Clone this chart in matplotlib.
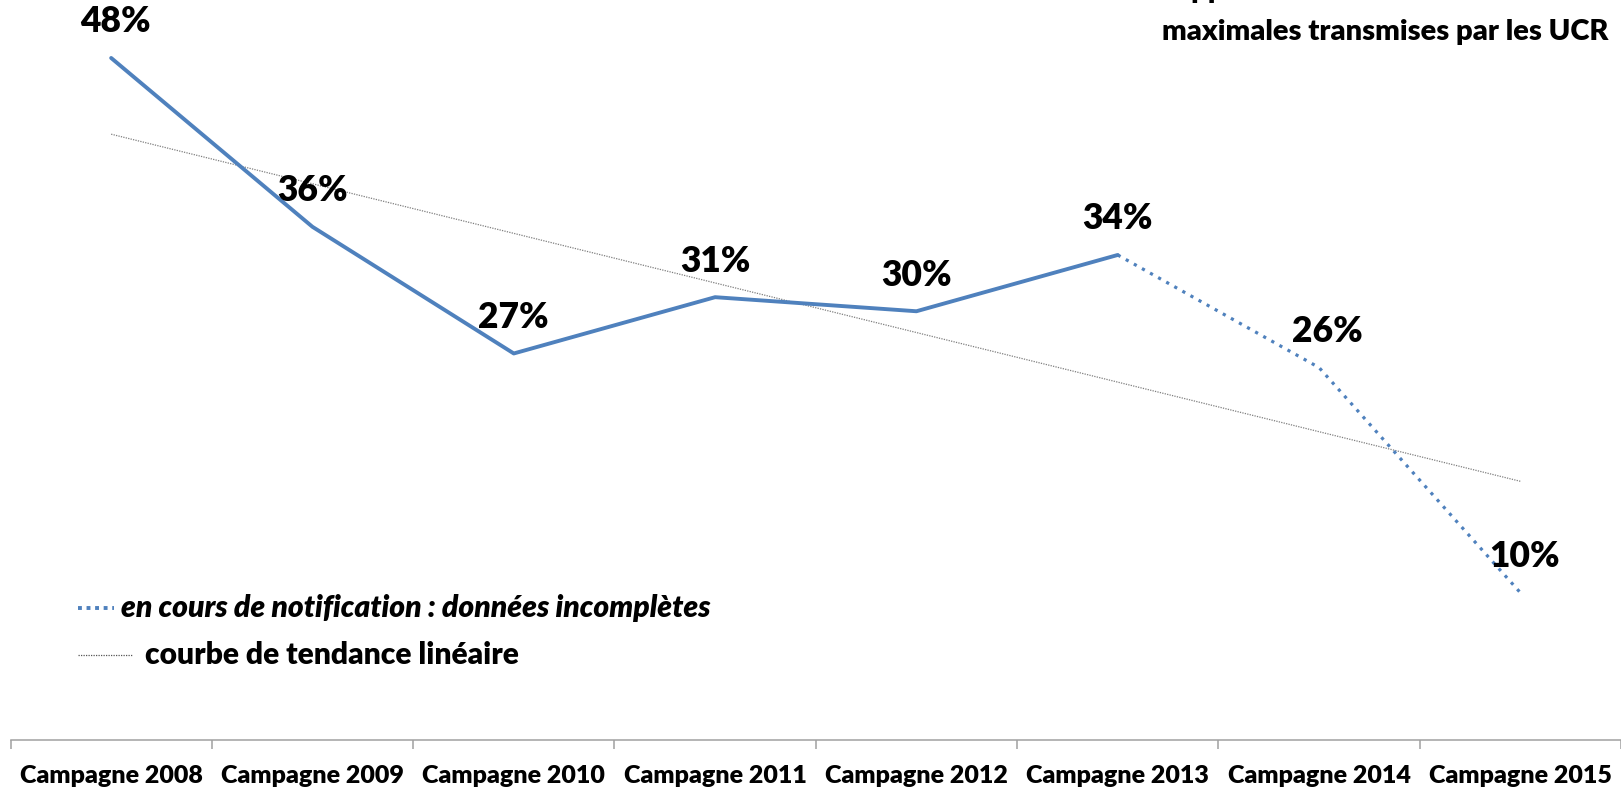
import matplotlib
matplotlib.use("Agg")
import matplotlib.pyplot as plt
from matplotlib.lines import Line2D
import numpy as np

# ---------------- data ----------------
categories = ["Campagne 2008", "Campagne 2009", "Campagne 2010", "Campagne 2011",
              "Campagne 2012", "Campagne 2013", "Campagne 2014", "Campagne 2015"]
values = [48, 36, 27, 31, 30, 34, 26, 10]
labels = ["48%", "36%", "27%", "31%", "30%", "34%", "26%", "10%"]
n_complete = 6  # first 6 campaigns complete, last ones incomplete
title_lines = ["Rapport du montant des sanctions", "maximales transmises par les UCR"]
legend_texts = ["en cours de notification : données incomplètes",
                "courbe de tendance linéaire"]

# ---------------- style ----------------
W, H = 1621, 790
FONT = "Lato"
WEIGHT = "heavy"
BLUE = "#4F81BD"
plt.rcParams["font.family"] = [FONT, "DejaVu Sans"]

fig = plt.figure(figsize=(W / 100, H / 100), dpi=100)
ax = fig.add_axes([10.5 / W, 50 / H, (W - 10.5) / W, 740 / H])

x = np.arange(len(categories))
# solid part
ax.plot(x[:n_complete], values[:n_complete], color=BLUE, lw=2.8,
        solid_capstyle="round", solid_joinstyle="round", zorder=3)
# dotted incomplete part
ax.plot(x[n_complete - 1:], values[n_complete - 1:], color=BLUE, lw=2.3,
        linestyle=(0, (1, 1.9)), dash_capstyle="butt", zorder=3)

# linear trend line
coef = np.polyfit(x, values, 1)
ax.plot(x, np.polyval(coef, x), color="#7f7f7f", lw=0.9,
        linestyle=(0, (1, 1)), zorder=2)

# data labels
dx = [4, 0, 0, 0, 0, 0, 8, 4]
for xi, v, lab, d in zip(x, values, labels, dx):
    ax.annotate(lab, (xi, v), xytext=(d * 0.72, 26), textcoords="offset points",
                ha="center", va="center", fontsize=25.5, fontweight=WEIGHT,
                color="black")

ax.set_xlim(-0.5, len(categories) - 0.5)
ax.set_ylim(-0.47, 52.12)

for s in ["top", "right", "left"]:
    ax.spines[s].set_visible(False)
ax.spines["bottom"].set_color("#A0A0A0")
ax.spines["bottom"].set_linewidth(1.1)
ax.set_yticks([])
ax.set_xticks(x)
ax.set_xticklabels(categories, fontsize=18, fontweight=WEIGHT)
ax.tick_params(axis="x", which="major", length=0, pad=18)
ax.set_xticks(np.arange(len(categories) + 1) - 0.5, minor=True)
ax.tick_params(axis="x", which="minor", length=6.5, width=1.1,
               color="#A0A0A0", direction="out")

# title (top right, first line mostly cut off at the top edge)
fig.text(1608 / W, 1 - 40 / H, title_lines[1], ha="right", va="baseline",
         fontsize=21, fontweight=WEIGHT)
fig.text(1605 / W, 1 - (-2) / H, title_lines[0], ha="right", va="baseline",
         fontsize=21, fontweight=WEIGHT)

# legend
def fx(px):
    return px / W

def fy(py):
    return 1 - py / H

fig.add_artist(Line2D([fx(78), fx(114)], [fy(608), fy(608)], color=BLUE, lw=2.8,
                      linestyle=(0, (1, 1.2)), dash_capstyle="butt"))
fig.text(fx(121), fy(608), legend_texts[0], ha="left", va="center",
         fontsize=21.6, fontweight=WEIGHT, fontstyle="italic")
fig.add_artist(Line2D([fx(78), fx(132)], [fy(655), fy(655)], color="#555555",
                      lw=0.9, linestyle=(0, (1, 1))))
fig.text(fx(145), fy(655), legend_texts[1], ha="left", va="center",
         fontsize=21.6, fontweight=WEIGHT)

fig.savefig("out.png", dpi=100)
